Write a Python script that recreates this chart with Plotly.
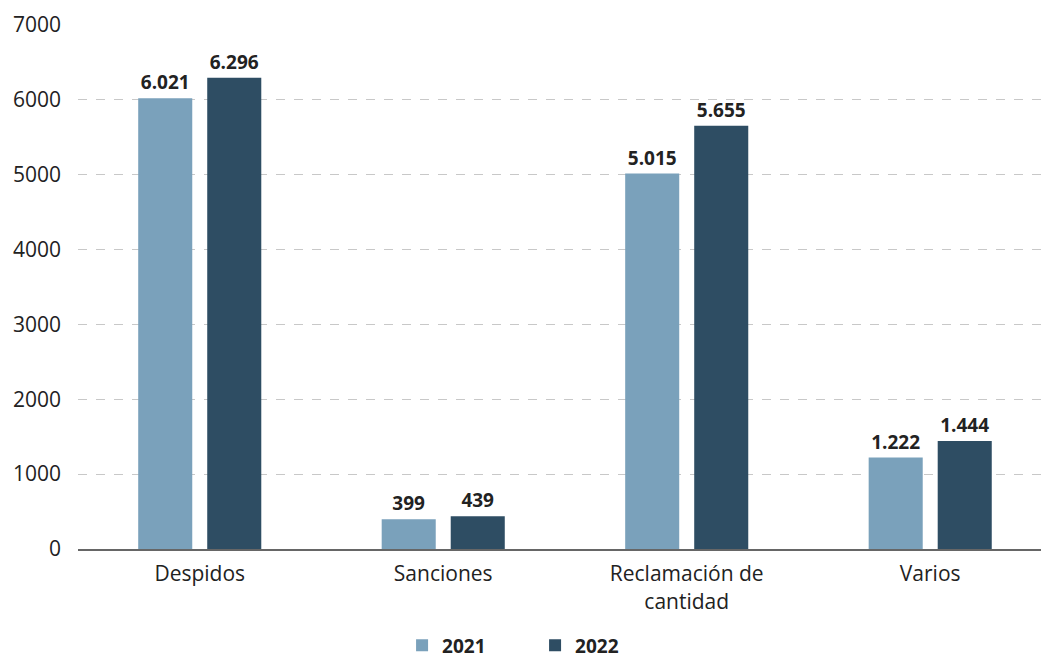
import plotly.graph_objects as go

categories = ["Despidos", "Sanciones", "Reclamación de<br>cantidad", "Varios"]
values_2021 = [6021, 399, 5015, 1222]
values_2022 = [6296, 439, 5655, 1444]
series_names = ["2021", "2022"]
colors = ["#7aa1bb", "#2e4d63"]
y_ticks = [0, 1000, 2000, 3000, 4000, 5000, 6000, 7000]


def fmt(v):
    return f"{v:,}".replace(",", ".")


fig = go.Figure()
for name, vals, col in zip(series_names, [values_2021, values_2022], colors):
    fig.add_trace(go.Bar(
        x=categories, y=vals, name=name,
        marker=dict(color=col, line=dict(width=0)),
        text=[fmt(v) for v in vals], textposition="outside",
        textfont=dict(family="Open Sans", size=19, color="#222222", weight="bold"),
        cliponaxis=False,
    ))

fig.update_layout(
    width=1041, height=660,
    margin=dict(l=78, r=0, t=25, b=111),
    paper_bgcolor="white", plot_bgcolor="white",
    barmode="group", bargap=0.433, bargroupgap=0.217,
    font=dict(family="Open Sans", size=21, color="#222222"),
    showlegend=True,
    legend=dict(orientation="h", xref="container", yref="container",
                x=0.514, xanchor="center", y=0.022, yanchor="middle",
                font=dict(size=19, weight="bold", color="#222222"),
                itemwidth=30, entrywidth=88, entrywidthmode="pixels",
                traceorder="normal"),
    xaxis=dict(range=[-0.5, 3.455], showgrid=False, showline=True,
               linecolor="#666666", linewidth=2, ticks="",
               ticklabelstandoff=5,
               tickfont=dict(size=21, color="#222222")),
    yaxis=dict(range=[0, 7000], tickvals=y_ticks, showgrid=True,
               gridcolor="#c8c8c8", griddash="dash", gridwidth=1,
               zeroline=False, showline=False, ticks="",
               ticklabelstandoff=16,
               tickfont=dict(size=21, color="#222222")),
)

fig.write_html("out.html", config={"displayModeBar": False},
               post_script="document.body.style.margin='0';")
